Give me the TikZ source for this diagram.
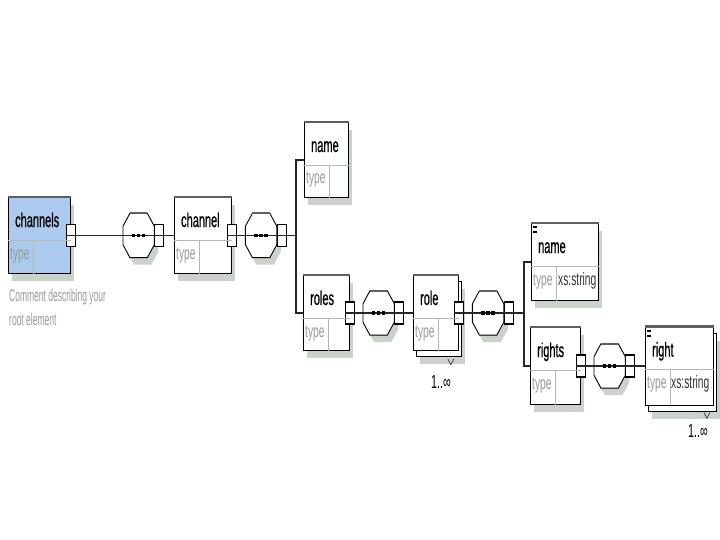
\documentclass[tikz,border=0pt]{standalone}
\usepackage{fontspec}
\newfontfamily\xsdfont[FakeStretch=0.57]{Liberation Sans}
\newfontfamily\xsdnarrow[FakeStretch=0.5]{Liberation Sans}
\newfontfamily\xsdlabel[FakeStretch=0.55, FakeBold=0.6]{Liberation Sans}
\usetikzlibrary{positioning, shadows, backgrounds}

\definecolor{chanblue}{RGB}{172,201,238}
\definecolor{shade}{RGB}{203,209,203}
\definecolor{typegray}{RGB}{150,155,150}
\definecolor{edgegray}{RGB}{95,95,95}

\tikzset{
  box/.style={draw=black, fill=white, line width=0.9pt, inner sep=0pt, anchor=north west},
  onebox/.style={box, drop shadow={shadow xshift=4pt, shadow yshift=-8pt, fill=shade, opacity=1}},
  twobox/.style={box, drop shadow={shadow xshift=7pt, shadow yshift=-14pt, fill=shade, opacity=1},
    copy shadow={shadow xshift=3pt, shadow yshift=-6pt, fill=white, draw=black, line width=0.9pt}},
  port/.style={draw=black, fill=white, line width=1.1pt, inner sep=0pt, minimum width=9pt, minimum height=22pt},
  seq/.style={inner sep=0pt, minimum width=31pt, minimum height=44pt},
  seqshape/.style={draw=black, fill=white, line width=0.9pt,
    drop shadow={shadow xshift=4pt, shadow yshift=-7pt, fill=shade, opacity=1}},
  conn/.style={draw=black!85, line width=1.3pt},
  div/.style={draw=typegray!70, line width=0.8pt},
  topedge/.style={draw=edgegray, line width=2.5pt},
  lbl/.style={anchor=base west, inner sep=0pt, font=\xsdlabel\fontsize{20}{22}\selectfont},
  typ/.style={anchor=base west, inner sep=0pt, text=typegray, font=\xsdfont\fontsize{18}{20}\selectfont},
  mult/.style={inner sep=0pt, font=\xsdfont\fontsize{19}{20}\selectfont}
}

\begin{document}
\begin{tikzpicture}[x=1pt, y=-1pt]
\useasboundingbox (0,0) rectangle (720,540);

% root element and its sequence
\node[onebox, fill=chanblue, minimum width=62pt, minimum height=76pt] (channels) at (8,197) {};
\node[port] (channelsport) at (channels.east) {};
\node[seq, right=47pt of channelsport] (seqa) {};
\node[port, anchor=west] (seqaport) at (seqa.east) {};
\node[onebox, minimum width=57pt, minimum height=76pt, right=9.5pt of seqaport] (channel) {};
\node[port] (channelport) at (channel.east) {};
\node[seq, right=8.5pt of channelport] (seqb) {};
\node[port, anchor=west] (seqbport) at (seqb.east) {};
\coordinate[right=9pt of seqbport] (forka);

% children of channel
\node[onebox, minimum width=44pt, minimum height=75pt] (name) at (304,122) {};
\node[onebox, minimum width=46pt, minimum height=75pt] (roles) at (303,275) {};
\node[port] (rolesport) at (roles.east) {};
\node[seq, right=8pt of rolesport] (seqc) {};
\node[port, anchor=west] (seqcport) at (seqc.east) {};
\node[twobox, minimum width=45pt, minimum height=75pt, right=8.5pt of seqcport] (role) {};
\node[port] (roleport) at (role.east) {};
\node[seq, right=8.5pt of roleport] (seqd) {};
\node[port, anchor=west] (seqdport) at (seqd.east) {};
\coordinate[right=10pt of seqdport] (forkb);

% children of role
\node[onebox, minimum width=67pt, minimum height=77pt] (rolename) at (531,223) {};
\node[onebox, minimum width=50pt, minimum height=77pt] (rights) at (530,327) {};
\node[port] (rightsport) at (rights.east) {};
\node[seq, right=8pt of rightsport] (seqe) {};
\node[port, anchor=west] (seqeport) at (seqe.east) {};
\node[twobox, minimum width=68pt, minimum height=78pt, right=9.5pt of seqeport] (rightel) {};

% sequence compositors
\begin{scope}[on background layer]
\foreach \s in {seqa,seqb,seqc,seqd,seqe}
  \draw[seqshape] ([xshift=7pt]\s.north west) -- ([xshift=-7pt]\s.north east)
    -- ([yshift=-13pt]\s.north east) -- ([yshift=13pt]\s.south east)
    -- ([xshift=-7pt]\s.south east) -- ([xshift=7pt]\s.south west)
    -- ([yshift=13pt]\s.south west) -- ([yshift=-13pt]\s.north west) -- cycle;
\end{scope}
\foreach \s in {seqa,seqb,seqc,seqd,seqe} {
  \draw[topedge] ([xshift=7pt]\s.north west) -- ([xshift=-7pt]\s.north east);
  \draw[conn] (\s.west) -- (\s.east);
  \foreach \d in {-5,0,5}
    \fill ([xshift=\d pt]\s.center) +(-1.8,-1.8) rectangle +(1.8,1.8);
}
\foreach \p in {channelsport,seqaport,channelport,seqbport,rolesport,seqcport,roleport,seqdport,rightsport,seqeport}
  \draw[conn] (\p.west) -- (\p.east);

% element boxes
\foreach \b/\l in {channels/channels, channel/channel, name/name, roles/roles, role/role, rolename/name, rights/rights, rightel/right} {
  \draw[topedge] (\b.north west) -- (\b.north east);
  \draw[div] ([yshift=-43pt]\b.north west) -- ([yshift=-43pt]\b.north east);
  \draw[div] ([xshift=25pt,yshift=-43pt]\b.north west) -- ([xshift=25pt]\b.south west);
  \node[lbl] (\b-l) at ([xshift=7pt,yshift=-30pt]\b.north west) {\l};
  \node[typ] (\b-t) at ([xshift=2pt,yshift=-62pt]\b.north west) {type};
}
\node[typ, text=gray!40!black] (rolename-x) at ([xshift=27pt,yshift=-62pt]rolename.north west) {xs:string};
\node[typ, text=gray!40!black] (rightel-x) at ([xshift=26pt,yshift=-62pt]rightel.north west) {xs:string};
\fill ([xshift=2pt,yshift=-3pt]rolename.north west) rectangle +(4,2);
\fill ([xshift=2pt,yshift=-8pt]rolename.north west) rectangle +(4,2);
\fill ([xshift=2pt,yshift=-3pt]rightel.north west) rectangle +(4,2);
\fill ([xshift=2pt,yshift=-8pt]rightel.north west) rectangle +(4,2);

% connectors
\draw[conn] (channelsport) -- (seqa);
\draw[conn] (seqaport) -- (channel);
\draw[conn] (channelport) -- (seqb);
\draw[conn] (seqbport) -- (forka);
\draw[conn] (name.west) -| (forka) |- (roles.west);
\draw[conn] (rolesport) -- (seqc);
\draw[conn] (seqcport) -- (role);
\draw[conn] (roleport) -- (seqd);
\draw[conn] (seqdport) -- (forkb);
\draw[conn] (rolename.west) -| (forkb) |- (rights.west);
\draw[conn] (rightsport) -- (seqe);
\draw[conn] (seqeport) -- (rightel);

% annotations
\node[anchor=north west, align=left, inner sep=0pt, text=typegray,
  font=\xsdnarrow\fontsize{17}{24}\selectfont] (comment) at (9,289) {Comment describing your\\root element};
\draw ([xshift=-11pt,yshift=-8pt]role.south east) -- ++(3,6) -- ++(3,-6);
\node[mult] (rolemult) at (441,382) {1..∞};
\draw ([xshift=-10pt,yshift=-7pt]rightel.south east) -- ++(3,6) -- ++(3,-6);
\node[mult] (rightmult) at (698,431) {1..∞};
\end{tikzpicture}
\end{document}
